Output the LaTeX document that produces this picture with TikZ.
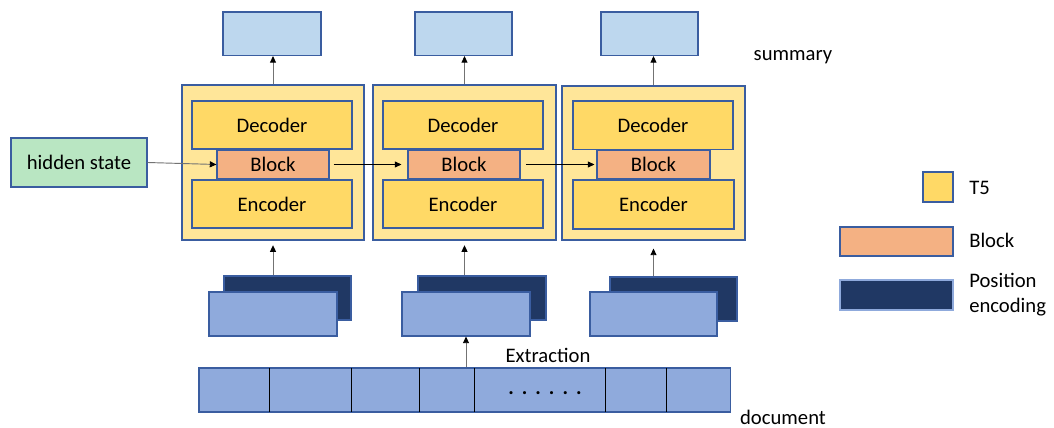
\documentclass[tikz,border=0pt]{standalone}
\usepackage{fontspec}
\setmainfont{Carlito}
\usetikzlibrary{fit,arrows.meta}
\definecolor{edge}{HTML}{3A5DA0}
\definecolor{topfill}{HTML}{BDD7EE}
\definecolor{outerfill}{HTML}{FFE699}
\definecolor{innerfill}{HTML}{FFD966}
\definecolor{blockfill}{HTML}{F4B183}
\definecolor{hidfill}{HTML}{B9E6C2}
\definecolor{pefill}{HTML}{203864}
\definecolor{lbfill}{HTML}{8FAADC}
\begin{document}
\begin{tikzpicture}[x=0.75pt,y=-0.75pt,
  font=\fontsize{15.5}{18.6}\selectfont,
  box/.style={draw=edge, line width=0.8pt, inner sep=0pt},
  topbox/.style={box, fill=topfill},
  outerbox/.style={box, fill=outerfill},
  innerbox/.style={box, fill=innerfill},
  blockbox/.style={box, fill=blockfill},
  hidbox/.style={box, fill=hidfill},
  pebox/.style={box, fill=pefill},
  lbbox/.style={box, fill=lbfill},
  cellbox/.style={fill=lbfill, inner sep=0pt},
  divider/.style={draw=black, line width=0.7pt},
  label/.style={inner sep=0pt},
  tip/.style={-{Triangle[black,length=5pt,width=4.5pt]}},
  grayarr/.style={tip, draw=black!55, line width=0.7pt},
  blackarr/.style={tip, draw=black, line width=0.5pt},
]
\useasboundingbox (0,0) rectangle (1054,428);

% top (summary) boxes
\node[topbox, fit={(223,12) (321,55.5)}] (top1) {};
\node[topbox, fit={(415,12) (512,55.5)}] (top2) {};
\node[topbox, fit={(601,12) (698,55.5)}] (top3) {};

% T5 modules
\node[outerbox, fit={(182,85) (364,240)}] (t1) {};
\node[outerbox, fit={(373,85) (556,240)}] (t2) {};
\node[outerbox, fit={(562,86) (745,240)}] (t3) {};

\node[innerbox, fit={(192,101) (352,149)}] (d1) {};
\node[innerbox, fit={(383,101) (543,149)}] (d2) {};
\node[innerbox, fit={(573,101) (733,149.5)}] (d3) {};

\node[innerbox, fit={(192,180) (352,228)}] (e1) {};
\node[innerbox, fit={(383,180) (543,228)}] (e2) {};
\node[innerbox, fit={(573,180) (734,229)}] (e3) {};

\node[blockbox, fit={(217,150) (329,179)}] (b1) {};
\node[blockbox, fit={(408,150) (520,179)}] (b2) {};
\node[blockbox, fit={(597,150) (710,179)}] (b3) {};

\foreach \i in {1,2,3} {
  \node[label] (d\i txt) at (d\i.center) {Decoder};
  \node[label] (e\i txt) at (e\i.center) {Encoder};
  \node[label] (b\i txt) at (b\i.center) {Block};
}

% hidden state
\node[hidbox, fit={(11,138) (147,187)}] (hid) {};
\node[label] (hidtxt) at (hid.center) {hidden state};

% position encoding stacks
\node[pebox, fit={(224,276) (351,320)}] (pe1) {};
\node[pebox, fit={(418,276) (546,320)}] (pe2) {};
\node[pebox, fit={(610,277) (737,321)}] (pe3) {};
\node[lbbox, fit={(209,292) (337,336)}] (lb1) {};
\node[lbbox, fit={(402,292) (530,336)}] (lb2) {};
\node[lbbox, fit={(590,292) (717,336)}] (lb3) {};

% document row
\node[cellbox, fit={(199,368) (268.7,412)}] (c1) {};
\node[cellbox, fit={(268.7,368) (350.7,412)}] (c2) {};
\node[cellbox, fit={(350.7,368) (418.7,412)}] (c3) {};
\node[cellbox, fit={(418.7,368) (474.3,412)}] (c4) {};
\node[cellbox, fit={(474.3,368) (604.7,412)}] (c5) {};
\node[cellbox, fit={(604.7,368) (665.7,412)}] (c6) {};
\node[cellbox, fit={(665.7,368) (730.7,412)}] (c7) {};
\node[box, fit={(199,368) (730.7,412)}] (doc) {};
\foreach \c in {c1,c2,c3,c4,c5,c6}
  \draw[divider] (\c.north east) -- (\c.south east);
\node[label, anchor=base] (dots) at (545,394) {\textbf{.\hskip6pt.\hskip6pt.\hskip6pt.\hskip6pt.\hskip6pt.}};

% labels
\node[label] (summary) at (793,57) {summary};
\node[label] (extraction) at (548,355) {Extraction};
\node[label] (document) at (783,417) {document};

% legend
\node[innerbox, fit={(923,172) (953,202)}] (legT5) {};
\node[blockbox, fit={(840,227) (953,256)}] (legBlock) {};
\node[pebox, draw=lbfill, fit={(840,280) (953,310)}] (legPE) {};
\node[label, anchor=west] (legT5txt) at (969,188) {T5};
\node[label, anchor=west] (legBlocktxt) at (969,240) {Block};
\node[label, anchor=west, align=left] (legPEtxt) at (969,295) {Position\\encoding};

% connectors
\draw[grayarr] (hid.east) -- (b1.west);
\draw[blackarr, shorten <=3pt, shorten >=4.5pt] (b1.east) -- (b2.west);
\draw[blackarr, shorten <=4pt, shorten >=1.5pt] (b2.east) -- (b3.west);

\draw[grayarr] (t1.north) -- (t1.north |- top1.south);
\draw[grayarr] (t2.north) -- (t2.north |- top2.south);
\draw[grayarr] (t3.north) -- (t3.north |- top3.south);

\draw[grayarr, shorten >=3.5pt] (t1.south |- pe1.north) -- (t1.south);
\draw[grayarr, shorten >=3.5pt] (t2.south |- pe2.north) -- (t2.south);
\draw[grayarr, shorten >=6pt] (t3.south |- pe3.north) -- (t3.south);

\draw[grayarr] (lb2.south |- doc.north) -- (lb2.south);
\end{tikzpicture}
\end{document}
